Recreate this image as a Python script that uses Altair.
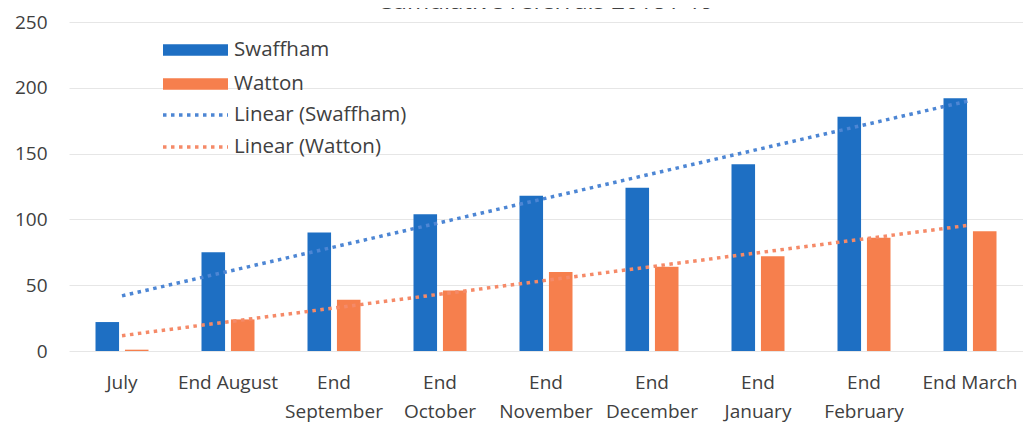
import altair as alt
import pandas as pd

categories = ["July", "End August", "End September", "End October", "End November",
              "End December", "End January", "End February", "End March"]
swaffham = [22, 75, 90, 104, 118, 124, 142, 178, 192]
watton = [1, 24, 39, 46, 60, 64, 72, 86, 91]
series_names = ["Swaffham", "Watton"]
trend_names = ["Linear (Swaffham)", "Linear (Watton)"]
y_ticks = [0, 50, 100, 150, 200, 250]
title_text = "Cumulative referrals 2018 / 19"

rows = []
for i, c in enumerate(categories):
    rows.append({"month": c, "idx": i + 1, "series": series_names[0],
                 "trend": trend_names[0], "value": swaffham[i]})
    rows.append({"month": c, "idx": i + 1, "series": series_names[1],
                 "trend": trend_names[1], "value": watton[i]})
df = pd.DataFrame(rows)

bar_colors = ["#1e6fc3", "#f67f4d"]
trend_colors = ["#4d86d4", "#f58a68"]
FONT = "Open Sans"
TXT = "#404040"

bars = alt.Chart(df).mark_bar().encode(
    x=alt.X("month:N", sort=categories,
            scale=alt.Scale(paddingInner=0.5, paddingOuter=0.25),
            axis=alt.Axis(title=None, labelAngle=0, ticks=False, domain=False,
                          labelPadding=22, labelFontSize=19, labelLineHeight=29,
                          labelColor=TXT, labelFont=FONT,
                          labelExpr="length(datum.label) > 10 ? split(datum.label, ' ') : datum.label")),
    xOffset=alt.XOffset("series:N", sort=series_names,
                        scale=alt.Scale(paddingInner=0.2, paddingOuter=0)),
    y=alt.Y("value:Q", scale=alt.Scale(domain=[0, 250], nice=False),
            axis=alt.Axis(values=y_ticks, title=None, grid=True, gridColor="#e6e6e6",
                          ticks=False, domain=False, labelPadding=22, labelFontSize=19,
                          labelColor=TXT, labelFont=FONT)),
    color=alt.Color("series:N", scale=alt.Scale(domain=series_names, range=bar_colors),
                    legend=alt.Legend(title=None, orient="none", legendX=94, legendY=15,
                                      symbolType="M-1,-0.18H1V0.18H-1Z", symbolSize=4225,
                                      symbolStrokeWidth=0, clipHeight=26, rowPadding=8,
                                      labelFontSize=20.5, labelOffset=6, labelColor=TXT,
                                      labelFont=FONT, labelLimit=400, padding=0)),
)

trend = alt.Chart(df).transform_regression(
    "idx", "value", groupby=["trend"], extent=[1, 9]
).mark_line(strokeDash=[3.5, 4.5], strokeWidth=3.5).encode(
    x=alt.X("idx:Q", scale=alt.Scale(domain=[0.5, 9.5], nice=False, zero=False), axis=None),
    y=alt.Y("value:Q"),
    stroke=alt.Stroke("trend:N", scale=alt.Scale(domain=trend_names, range=trend_colors),
                      legend=alt.Legend(title=None, orient="none", legendX=92, legendY=80,
                                        symbolType="stroke", symbolSize=4225,
                                        symbolStrokeWidth=3.5, symbolDash=[3.5, 4.5],
                                        clipHeight=26, rowPadding=6, labelFontSize=20.5,
                                        labelOffset=4, labelColor=TXT, labelFont=FONT,
                                        labelLimit=400, padding=0)),
)

chart = alt.layer(bars, trend).resolve_scale(x="independent").properties(
    width=954, height=329,
    autosize=alt.AutoSizeParams(type="none"),
    padding={"left": 61, "top": 14, "right": 0, "bottom": 80},
    title=alt.Title(title_text, fontSize=24, offset=2, dy=3, color=TXT, font=FONT,
                    fontWeight="normal"),
).configure_view(stroke=None)

chart.save("out.html", embed_options={"renderer": "svg", "actions": False})
